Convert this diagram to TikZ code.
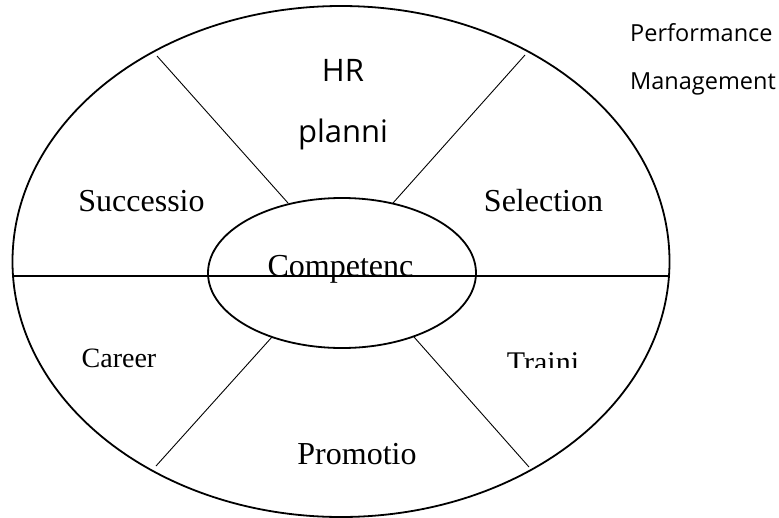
\documentclass[tikz,border=0pt]{standalone}
\usepackage{fontspec}
\setmainfont{Liberation Serif}
\newfontfamily\opensans{Open Sans}
\usetikzlibrary{shapes.geometric}
\begin{document}
\begin{tikzpicture}[x=1pt,y=-1pt,
  ring/.style={draw, ellipse, inner sep=0pt, line width=1.8pt},
  spoke/.style={draw, line width=0.9pt},
  serif/.style={anchor=base, inner sep=0pt, font=\fontsize{32}{36}\selectfont},
  sans/.style={anchor=base, inner sep=0pt, font=\opensans\fontsize{23.5}{27}\selectfont},
  bigsans/.style={anchor=base, inner sep=0pt, font=\opensans\fontsize{31}{36}\selectfont}]
\useasboundingbox (0,0) rectangle (779,517);
\node[ring, minimum width=657pt, minimum height=511pt] (outer) at (341,261.5) {};
\node[ring, minimum width=268pt, minimum height=150pt] (inner) at (342,273) {};
% spoke endpoints
\coordinate (ulo) at (157,56);  \coordinate (uli) at (288,203);
\coordinate (uro) at (525,55);  \coordinate (uri) at (393,203);
\coordinate (llo) at (156,466); \coordinate (lli) at (272,337);
\coordinate (lro) at (529,467); \coordinate (lri) at (414,337);
\coordinate (hl) at (13,276);   \coordinate (hr) at (669,276);
\draw[spoke] (uli) -- (ulo);
\draw[spoke] (uri) -- (uro);
\draw[spoke] (lli) -- (llo);
\draw[spoke] (lri) -- (lro);
\draw[spoke, line width=1.2pt] (hl) -- (hr);
% labels
\node[bigsans] (thr) at (343,81) {HR};
\node[bigsans] (tplan) at (343,142) {planni};
\node[sans, anchor=base west] (tperf) at (630,41) {Performance};
\node[sans, anchor=base west] (tmgmt) at (630,89) {Management};
\node[serif] (tsucc) at (141.5,211) {Successio};
\node[serif] (tsel) at (543.5,211) {Selection};
\node[serif] (tcomp) at (340.5,276) {Competenc};
\node[serif, font=\fontsize{28}{32}\selectfont] (tcar) at (119,367) {Career};
\begin{scope}
\clip (480,330) rectangle (620,367.5);
\node[serif, font=\fontsize{30}{34}\selectfont] (ttrain) at (543,372) {Traini};
\end{scope}
\node[serif] (tprom) at (357,464) {Promotio};
\end{tikzpicture}
\end{document}
